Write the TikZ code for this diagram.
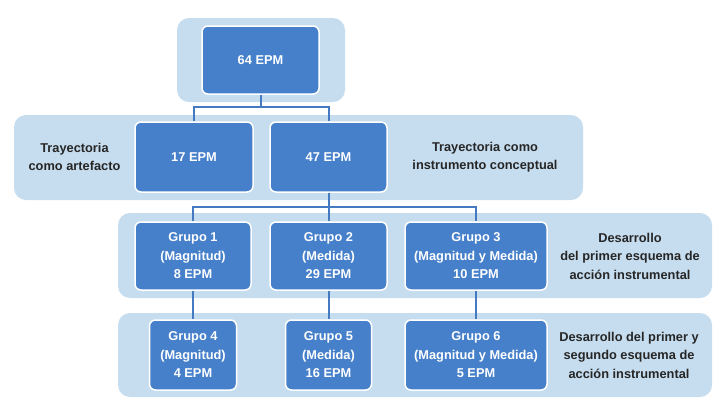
\documentclass[tikz,border=0pt]{standalone}
\usepackage{fontspec}
\setmainfont{Liberation Sans}
\definecolor{bandblue}{RGB}{198,221,239}
\definecolor{boxblue}{RGB}{70,128,202}
\definecolor{lineblue}{RGB}{68,122,194}
\definecolor{lbltext}{RGB}{38,38,38}
\begin{document}
\begin{tikzpicture}[x=1pt,y=-1pt,
 band/.style={fill=bandblue, rounded corners=12pt},
 box/.style={draw=white, line width=1.5pt, fill=boxblue, rounded corners=6pt, text=white,
   font=\bfseries\fontsize{12.8}{18.5}\selectfont, align=center, inner sep=0pt},
 lbl/.style={font=\bfseries\fontsize{12.8}{18.5}\selectfont, align=center, text=lbltext},
 conn/.style={draw=lineblue, line width=2pt}]
\useasboundingbox (0,0) rectangle (725,413);
% bands
\fill[band] (177,18) rectangle (345,102);
\fill[band] (14,115) rectangle (583,200);
\fill[band] (118,213) rectangle (712,298);
\fill[band] (118,313) rectangle (712,397);
% boxes
\node[box, minimum width=117pt, minimum height=68pt] (top) at (260.5,60) {64 EPM};
\node[box, minimum width=118pt, minimum height=70pt] (b17) at (194,157) {17 EPM};
\node[box, minimum width=117pt, minimum height=70pt] (b47) at (328.5,157) {47 EPM};
\node[box, minimum width=116pt, minimum height=68pt] (g1) at (193,256) {Grupo 1\\(Magnitud)\\8 EPM};
\node[box, minimum width=117pt, minimum height=68pt] (g2) at (328.5,256) {Grupo 2\\(Medida)\\29 EPM};
\node[box, minimum width=142pt, minimum height=68pt] (g3) at (476,256) {Grupo 3\\(Magnitud y Medida)\\10 EPM};
\node[box, minimum width=87pt, minimum height=70pt] (g4) at (193,355) {Grupo 4\\(Magnitud)\\4 EPM};
\node[box, minimum width=86pt, minimum height=70pt] (g5) at (328.5,355) {Grupo 5\\(Medida)\\16 EPM};
\node[box, minimum width=142pt, minimum height=70pt] (g6) at (476,355) {Grupo 6\\(Magnitud y Medida)\\5 EPM};
% labels
\node[lbl] (l1) at (74.5,157) {Trayectoria\\como artefacto};
\node[lbl] (l2) at (485,157) {Trayectoria como\\instrumento conceptual};
\node[lbl] (l3) at (630,256) {Desarrollo\\del primer esquema de\\acción instrumental};
\node[lbl] (l4) at (629,355) {Desarrollo del primer y\\segundo esquema de\\acción instrumental};
% connectors
\coordinate (j1) at (260.5,107);
\coordinate (j2) at (328.5,207);
\draw[conn] (top.south) -- (j1) -| (b17.north);
\draw[conn] (j1) -| (b47.north);
\draw[conn] (b47.south) -- (j2) -| (g1.north);
\draw[conn] (j2) -| (g3.north);
\draw[conn] (j2) -- (g2.north);
\draw[conn] (g1.south) -- (g4.north);
\draw[conn] (g2.south) -- (g5.north);
\draw[conn] (g3.south) -- (g6.north);
\end{tikzpicture}
\end{document}
